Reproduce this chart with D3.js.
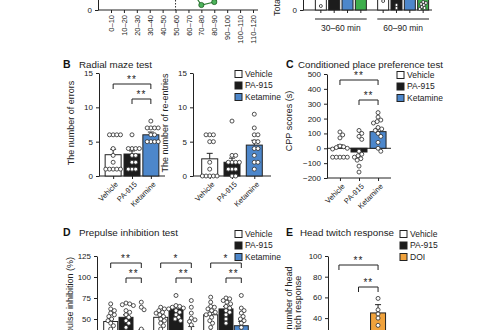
<!DOCTYPE html>
<html>
<head>
<meta charset="utf-8">
<script src="https://cdn.jsdelivr.net/npm/d3@7"></script>
<style>
body { margin: 0; background: #fff; }
svg { display: block; font-family: "Liberation Sans", Arial, sans-serif; }
</style>
</head>
<body>
<svg id="fig" width="500" height="330"></svg>
<script>
// ---- data ----
const treatments = ["Vehicle", "PA-915", "Ketamine"];
const htrTreatments = ["Vehicle", "PA-915", "DOI"];

// A: time course (only the bottom of the panel is visible)
const timeBins = ["0–10", "10–20", "20–30", "30–40", "40–50", "50–60", "60–70", "70–80", "80–90", "90–100", "100–110", "110–120"];
const timeCourse = [40, 38, 35, 30, 32, 30, 12, 2.5, 4, 10, 18, 22];
const injectionBin = "50–60";

// A: totals per period (bars run off the top)
const periods = ["30–60 min", "60–90 min"];
const periodGroups = ["Vehicle", "PA-915", "Ketamine", "Other"];
const periodMeans = [[60, 55, 70, 80], [50, 45, 65, 90]];
const periodPoints = [
    [[2], [], [], []],
    [[4.5], [2.5, 1], [], [0.5, 1.5, 2.5, 3.5, 4, 1, 3]]
];

// B: radial maze
const errorMeans = [3.1, 3.2, 6.0];
const errorSems = [0.8, 0.45, 0.4];
const errorPoints = [
    [6, 6, 6, 6, 4, 3, 2, 1, 1, 1, 1, 1],
    [6, 4, 4, 4, 4, 3, 3, 2, 2, 1, 1, 1],
    [8, 7, 7, 7, 7, 6, 6, 5, 5, 5, 5]
];
const reentryMeans = [2.5, 2.0, 4.5];
const reentrySems = [0.8, 0.6, 0.7];
const reentryPoints = [
    [6, 6, 6, 5, 5, 2, 1, 0, 0, 0, 0, 0],
    [8, 3, 3, 2, 2, 2, 2, 1, 1, 1, 0, 0],
    [9, 7, 6, 6, 5, 5, 4, 4, 3, 2, 2, 1]
];

// C: conditioned place preference
const cppMeans = [5, -25, 112];
const cppSems = [18, 25, 22];
const cppPoints = [
    [110, 90, 70, 15, 10, 5, 0, -5, -60, -60, -60, -60, -60],
    [120, 100, 80, 60, -20, -40, -50, -60, -70, -80, -120, -160],
    [240, 210, 190, 180, 170, 140, 130, 120, 100, 80, 40, 0, -20]
];

// D: prepulse inhibition, three prepulse levels
const prepulseLevels = ["PP1", "PP2", "PP3"];
const ppiMeans = [[47, 52, 30], [52, 62, 35], [55, 62, 42]];
const ppiSems = [[3, 3, 7], [3, 3, 6], [3, 3, 5]];
const ppiPoints = [
    [[68, 62, 60, 57, 55, 53, 50, 48, 45, 42, 38, 33, 30],
     [69, 68, 67, 66, 60, 58, 55, 52, 48, 45, 40, 35],
     [70, 64, 61, 38, 30, 25, 20, 15, 10, 5, 20, 0]],
    [[64, 62, 60, 58, 57, 55, 53, 50, 48, 45, 42, 38],
     [78, 66, 65, 64, 63, 62, 60, 58, 55, 52, 50, 48],
     [72, 64, 57, 51, 49, 47, 43, 30, 20, 15, 10, 5]],
    [[76, 70, 65, 64, 62, 60, 58, 56, 55, 52, 48, 45, 40, 35],
     [75, 74, 72, 70, 68, 65, 63, 60, 58, 55, 50, 45],
     [78, 63, 60, 57, 53, 50, 48, 45, 40, 35, 20, 15]]
];

// E: head twitch response
const htrMeans = [1, 1, 45];
const htrSems = [0.5, 0.5, 8];
const htrPoints = [[0, 0, 0, 1, 2, 0], [0, 0, 1, 0, 2, 0], [59, 48, 44, 40, 33]];

const fills = { "Vehicle": "#ffffff", "PA-915": "#1c1c1c", "Ketamine": "#4d87cb", "DOI": "#f0a23c", "Other": "#3dae4b" };
const ink = "#222";

const svg = d3.select("#fig");

// ---- helpers ----
function styleAxis(g, size) {
    g.attr("font-family", null).attr("font-size", null);
    g.selectAll("path, line").attr("stroke", ink).attr("stroke-width", 1);
    g.selectAll("text").attr("fill", ink).style("font-size", size + "px");
}

// simple beeswarm: nearest free horizontal slot for each point
function swarm(values, xc, y, r) {
    let placed = [];
    let minD = 2 * r * 0.92;
    values.slice().sort((a, b) => b - a).forEach(function(v) {
        let py = y(v);
        let k = 0, px;
        while (true) {
            let off = k === 0 ? 0 : Math.ceil(k / 2) * (k % 2 ? 1 : -1) * r * 0.46;
            px = xc + off;
            if (placed.every(p => (p.x - px) ** 2 + (p.y - py) ** 2 >= minD * minD - 0.01)) break;
            k++;
        }
        placed.push({ x: px, y: py });
    });
    return placed;
}

function drawBars(g, xs, y, means, sems, points, colors, barWidth, r) {
    g.selectAll(null).data(means).enter().append("rect")
        .attr("x", (d, i) => xs[i] - barWidth / 2)
        .attr("y", d => Math.min(y(d), y(0)))
        .attr("width", barWidth)
        .attr("height", d => Math.abs(y(d) - y(0)))
        .attr("fill", (d, i) => colors[i])
        .attr("stroke", ink)
        .attr("stroke-width", 1);

    g.selectAll(null).data(means).enter().append("path")
        .attr("d", function(m, i) {
            let e = m >= 0 ? m + sems[i] : m - sems[i];
            return "M" + xs[i] + "," + y(m) + "V" + y(e) + "M" + (xs[i] - 3) + "," + y(e) + "H" + (xs[i] + 3);
        })
        .attr("stroke", ink)
        .attr("stroke-width", 1)
        .attr("fill", "none");

    points.forEach(function(vals, i) {
        g.selectAll(null).data(swarm(vals, xs[i], y, r)).enter().append("circle")
            .attr("cx", d => d.x)
            .attr("cy", d => d.y)
            .attr("r", r)
            .attr("fill", "#fff")
            .attr("stroke", "#333")
            .attr("stroke-width", 0.85);
    });
}

function drawBracket(g, x1, x2, yb, label) {
    g.append("path")
        .attr("d", "M" + x1 + "," + (yb + 5) + "V" + yb + "H" + x2 + "V" + (yb + 5))
        .attr("fill", "none")
        .attr("stroke", ink)
        .attr("stroke-width", 1);
    g.append("text")
        .attr("x", (x1 + x2) / 2)
        .attr("y", yb - 1)
        .attr("text-anchor", "middle")
        .attr("fill", ink)
        .style("font-size", "10px")
        .style("letter-spacing", "1px")
        .text(label);
}

function drawLegend(x, y0, labels) {
    let item = svg.append("g").selectAll("g")
        .data(labels)
        .enter()
        .append("g")
        .attr("transform", (d, i) => "translate(" + x + "," + (y0 + i * 11.5) + ")");
    item.append("rect")
        .attr("x", 0).attr("y", -3.5)
        .attr("width", 7).attr("height", 7)
        .attr("fill", d => fills[d])
        .attr("stroke", ink);
    item.append("text")
        .attr("x", 10).attr("y", 0).attr("dy", "0.35em")
        .attr("fill", ink)
        .style("font-size", "8.5px")
        .text(d => d);
}

function drawTitle(x, y, letter, title, gap, width) {
    svg.append("text").attr("x", x).attr("y", y).attr("fill", "#111")
        .style("font-size", "10.5px").style("font-weight", "bold").text(letter);
    svg.append("text").attr("x", x + gap).attr("y", y).attr("fill", ink)
        .attr("textLength", width).attr("lengthAdjust", "spacingAndGlyphs")
        .style("font-size", "9.2px").text(title);
}

function yLabel(x, y, text, anchor) {
    svg.append("text")
        .attr("transform", "translate(" + x + "," + y + ") rotate(-90)")
        .attr("text-anchor", anchor || "middle")
        .attr("dy", "0.35em")
        .attr("fill", ink)
        .style("font-size", "9px")
        .text(text);
}

function categoryAxis(x, yPos, axisX) {
    let g = svg.append("g").attr("transform", "translate(0," + yPos + ")")
        .call(d3.axisBottom(x).tickSize(3).tickSizeOuter(0));
    styleAxis(g, 7.5);
    g.select(".domain").attr("d", "M" + axisX + ",0H" + x.range()[1]);
    g.selectAll(".tick text")
        .attr("text-anchor", "end")
        .attr("dy", "0.35em")
        .attr("y", 0)
        .attr("transform", "translate(3,7) rotate(-45)");
    return g;
}

// ---- Panel A, left: time course ----
function drawTimeCourse() {
    let x = d3.scalePoint().domain(timeBins).range([111, 253]);
    let y = d3.scaleLinear().domain([0, 50]).range([10, -90]);

    let ax = svg.append("g").attr("transform", "translate(0,10)")
        .call(d3.axisBottom(x).tickSize(3).tickSizeOuter(0));
    styleAxis(ax, 7.5);
    ax.select(".domain").attr("d", "M98,0H258");
    ax.selectAll(".tick text")
        .attr("text-anchor", "end")
        .attr("y", 0)
        .attr("dy", "0.35em")
        .attr("transform", "translate(0,5) rotate(-90)");

    let ay = svg.append("g").attr("transform", "translate(98,0)")
        .call(d3.axisLeft(y).tickValues([0]).tickSize(3).tickSizeOuter(0));
    styleAxis(ay, 8);

    svg.append("line")
        .attr("x1", x(injectionBin)).attr("x2", x(injectionBin))
        .attr("y1", y(50)).attr("y2", y(0))
        .attr("stroke", "#333").attr("stroke-dasharray", "1.5,1.5");

    let line = d3.line().x((d, i) => x(timeBins[i])).y(d => y(d));
    svg.append("path").datum(timeCourse)
        .attr("d", line)
        .attr("fill", "none")
        .attr("stroke", "#2f7d35")
        .attr("stroke-width", 1.2);
    svg.append("g").selectAll("circle").data(timeCourse).enter().append("circle")
        .attr("cx", (d, i) => x(timeBins[i]))
        .attr("cy", d => y(d))
        .attr("r", 2.6)
        .attr("fill", "#4cb35a")
        .attr("stroke", "#1f5e25")
        .attr("stroke-width", 0.8);
}

// ---- Panel A, right: totals per period ----
function drawPeriods() {
    let outer = d3.scaleBand().domain(periods).range([315, 429]).paddingInner(0.17);
    let inner = d3.scalePoint().domain(periodGroups).range([-20, 20]);
    let y = d3.scaleLinear().domain([0, 100]).range([10, -190]);

    let ay = svg.append("g").attr("transform", "translate(303,0)")
        .call(d3.axisLeft(y).tickValues([0]).tickSize(3).tickSizeOuter(0));
    styleAxis(ay, 8);
    svg.append("line").attr("x1", 303).attr("x2", 432).attr("y1", 10).attr("y2", 10)
        .attr("stroke", ink);

    periods.forEach(function(p, pi) {
        let xs = periodGroups.map(gname => outer(p) + outer.bandwidth() / 2 + inner(gname));
        let g = svg.append("g");
        drawBars(g, xs, y, periodMeans[pi], periodMeans[pi].map(() => 5), periodPoints[pi],
            periodGroups.map(gname => fills[gname]), 11, 1.5);
        g.selectAll(null).data(xs).enter().append("line")
            .attr("x1", d => d).attr("x2", d => d)
            .attr("y1", 10).attr("y2", 13)
            .attr("stroke", ink);
        g.append("line")
            .attr("x1", outer(p)).attr("x2", outer(p) + outer.bandwidth())
            .attr("y1", 19).attr("y2", 19)
            .attr("stroke", ink);
        g.append("text")
            .attr("x", outer(p) + outer.bandwidth() / 2)
            .attr("y", 31)
            .attr("text-anchor", "middle")
            .attr("fill", ink)
            .style("font-size", "8.5px")
            .text(p);
    });

    yLabel(277, 16, "Total distance", "start");
}

// ---- Panel B: radial maze ----
function drawMaze(axisX, endX, means, sems, points, label, withBrackets) {
    let x = d3.scalePoint().domain(treatments).range([axisX, endX]).padding(0.75);
    let y = d3.scaleLinear().domain([0, 15]).range([176, 73]);

    let ay = svg.append("g").attr("transform", "translate(" + axisX + ",0)")
        .call(d3.axisLeft(y).tickValues([0, 5, 10, 15]).tickSize(3).tickSizeOuter(0));
    styleAxis(ay, 8);
    categoryAxis(x, 176, axisX);

    drawBars(svg.append("g"), treatments.map(x), y, means, sems, points, treatments.map(t => fills[t]), 16, 2);
    if (withBrackets) {
        drawBracket(svg, x("Vehicle"), x("Ketamine"), 84, "**");
        drawBracket(svg, x("PA-915"), x("Ketamine"), 99, "**");
    }
    yLabel(axisX - 28, 123, label);
}

// ---- Panel C: CPP ----
function drawCpp() {
    let x = d3.scalePoint().domain(treatments).range([327, 391]).padding(0.68);
    let y = d3.scaleLinear().domain([-200, 500]).range([178, 74]);

    let ay = svg.append("g").attr("transform", "translate(327,0)")
        .call(d3.axisLeft(y).tickValues([-200, -100, 0, 100, 200, 300, 400, 500]).tickSize(3).tickSizeOuter(0));
    styleAxis(ay, 8);
    categoryAxis(x, 178, 327);
    svg.append("line").attr("x1", 327).attr("x2", 391).attr("y1", y(0)).attr("y2", y(0))
        .attr("stroke", ink);

    drawBars(svg.append("g"), treatments.map(x), y, cppMeans, cppSems, cppPoints,
        treatments.map(t => fills[t]), 16, 2);
    drawBracket(svg, x("Vehicle"), x("Ketamine"), 80, "**");
    drawBracket(svg, x("PA-915"), x("Ketamine"), 100, "**");
    yLabel(289, 121, "CPP scores (s)");
}

// ---- Panel D: PPI ----
function drawPpi() {
    let outer = d3.scalePoint().domain(prepulseLevels).range([97, 255]).padding(0.58);
    let inner = d3.scalePoint().domain(treatments).range([-15.3, 15.3]);
    let y = d3.scaleLinear().domain([0, 125]).range([361, 256]);

    let ay = svg.append("g").attr("transform", "translate(97,0)")
        .call(d3.axisLeft(y).tickValues([0, 25, 50, 75, 100, 125]).tickSize(3).tickSizeOuter(0));
    styleAxis(ay, 8);

    let stars = ["**", "*", "*"];
    prepulseLevels.forEach(function(lv, li) {
        let xs = treatments.map(t => outer(lv) + inner(t));
        drawBars(svg.append("g"), xs, y, ppiMeans[li], ppiSems[li], ppiPoints[li],
            treatments.map(t => fills[t]), 14, 2);
        drawBracket(svg, xs[0], xs[2], 263, stars[li]);
        drawBracket(svg, xs[1], xs[2], 278, "**");
    });
    yLabel(70, 257, "Prepulse inhibition (%)", "end");
}

// ---- Panel E: head twitch ----
function drawHtr() {
    let x = d3.scalePoint().domain(htrTreatments).range([328, 389]).padding(0.56);
    let y = d3.scaleLinear().domain([0, 100]).range([359.5, 256]);

    let ay = svg.append("g").attr("transform", "translate(328,0)")
        .call(d3.axisLeft(y).tickValues([0, 20, 40, 60, 80, 100]).tickSize(3).tickSizeOuter(0));
    styleAxis(ay, 8);

    drawBars(svg.append("g"), htrTreatments.map(x), y, htrMeans, htrSems, htrPoints,
        htrTreatments.map(t => fills[t]), 15, 2);
    drawBracket(svg, x("Vehicle"), x("DOI"), 265, "**");
    drawBracket(svg, x("PA-915"), x("DOI"), 287, "**");

    svg.append("text")
        .attr("transform", "translate(292,307) rotate(-90)")
        .attr("text-anchor", "middle")
        .attr("fill", ink)
        .style("font-size", "9px")
        .selectAll("tspan")
        .data(["The number of head", "twitch response"])
        .enter()
        .append("tspan")
        .attr("x", 0)
        .attr("dy", (d, i) => i === 0 ? "0em" : "1.05em")
        .text(d => d);
}

drawTimeCourse();
drawPeriods();

drawTitle(63, 68, "B", "Radial maze test", 16, 73);
drawMaze(99, 165, errorMeans, errorSems, errorPoints, "The number of errors", true);
drawMaze(193, 271, reentryMeans, reentrySems, reentryPoints, "The number of re-entries", false);
drawLegend(235, 74, treatments);

drawTitle(286, 68, "C", "Conditioned place preference test", 12, 145);
drawCpp();
drawLegend(397, 75, treatments);

drawTitle(63, 236, "D", "Prepulse inhibition test", 16, 99);
drawPpi();
drawLegend(235, 234, treatments);

drawTitle(286, 236, "E", "Head twitch response", 14, 94);
drawHtr();
drawLegend(400, 234, htrTreatments);
</script>
</body>
</html>
